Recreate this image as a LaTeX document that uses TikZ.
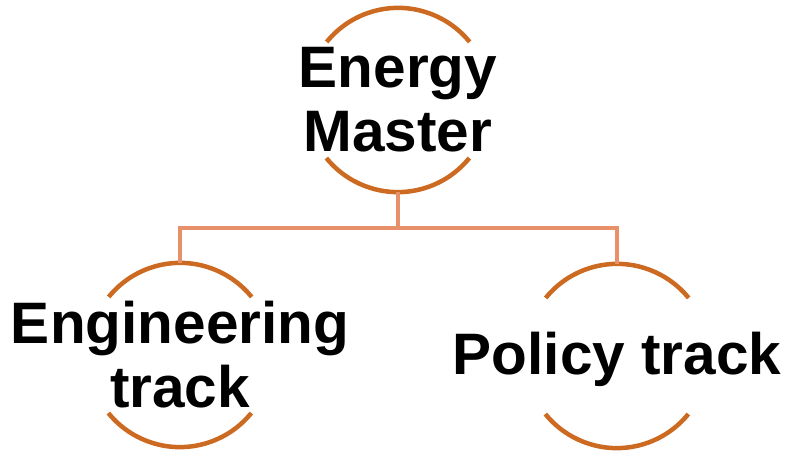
\documentclass[tikz,border=0pt]{standalone}
\usepackage{fontspec}
\setmainfont{Liberation Sans}
\definecolor{arcorange}{HTML}{CC6A22}
\definecolor{connorange}{HTML}{E8906A}
\tikzset{
  ring/.style={circle, minimum size=184pt, inner sep=0pt},
  arcline/.style={draw=arcorange, line width=4.5pt},
  conn/.style={draw=connorange, line width=4.2pt},
  label/.style={font=\bfseries\fontsize{58.5}{64}\selectfont, text=black, align=center, inner sep=0pt}
}
\begin{document}
\begin{tikzpicture}[x=1pt,y=1pt]
\useasboundingbox (0,0) rectangle (788,452);
\node[ring] (em) at (398,352) {};
\node[ring] (eng) at (180,97) {};
\node[ring] (pol) at (617,96) {};
% arcs
\foreach \n in {em,eng,pol}{
  \draw[arcline] (\n.39) arc[start angle=39, end angle=141, radius=92pt];
  \draw[arcline] (\n.-141) arc[start angle=-141, end angle=-39, radius=92pt];
}
% connectors
\coordinate (bus) at ([yshift=-36pt]em.south);
\draw[conn] (em.south) -- (bus) -| (eng.north);
\draw[conn] (bus) -| (pol.north);
% texts
\node[label] (emt) at (em) {Energy\\Master};
\node[label] (engt) at (eng) {Engineering\\track};
\node[label, anchor=base] (polt) at ([yshift=-19pt]pol.center) {Policy track};
\end{tikzpicture}
\end{document}
